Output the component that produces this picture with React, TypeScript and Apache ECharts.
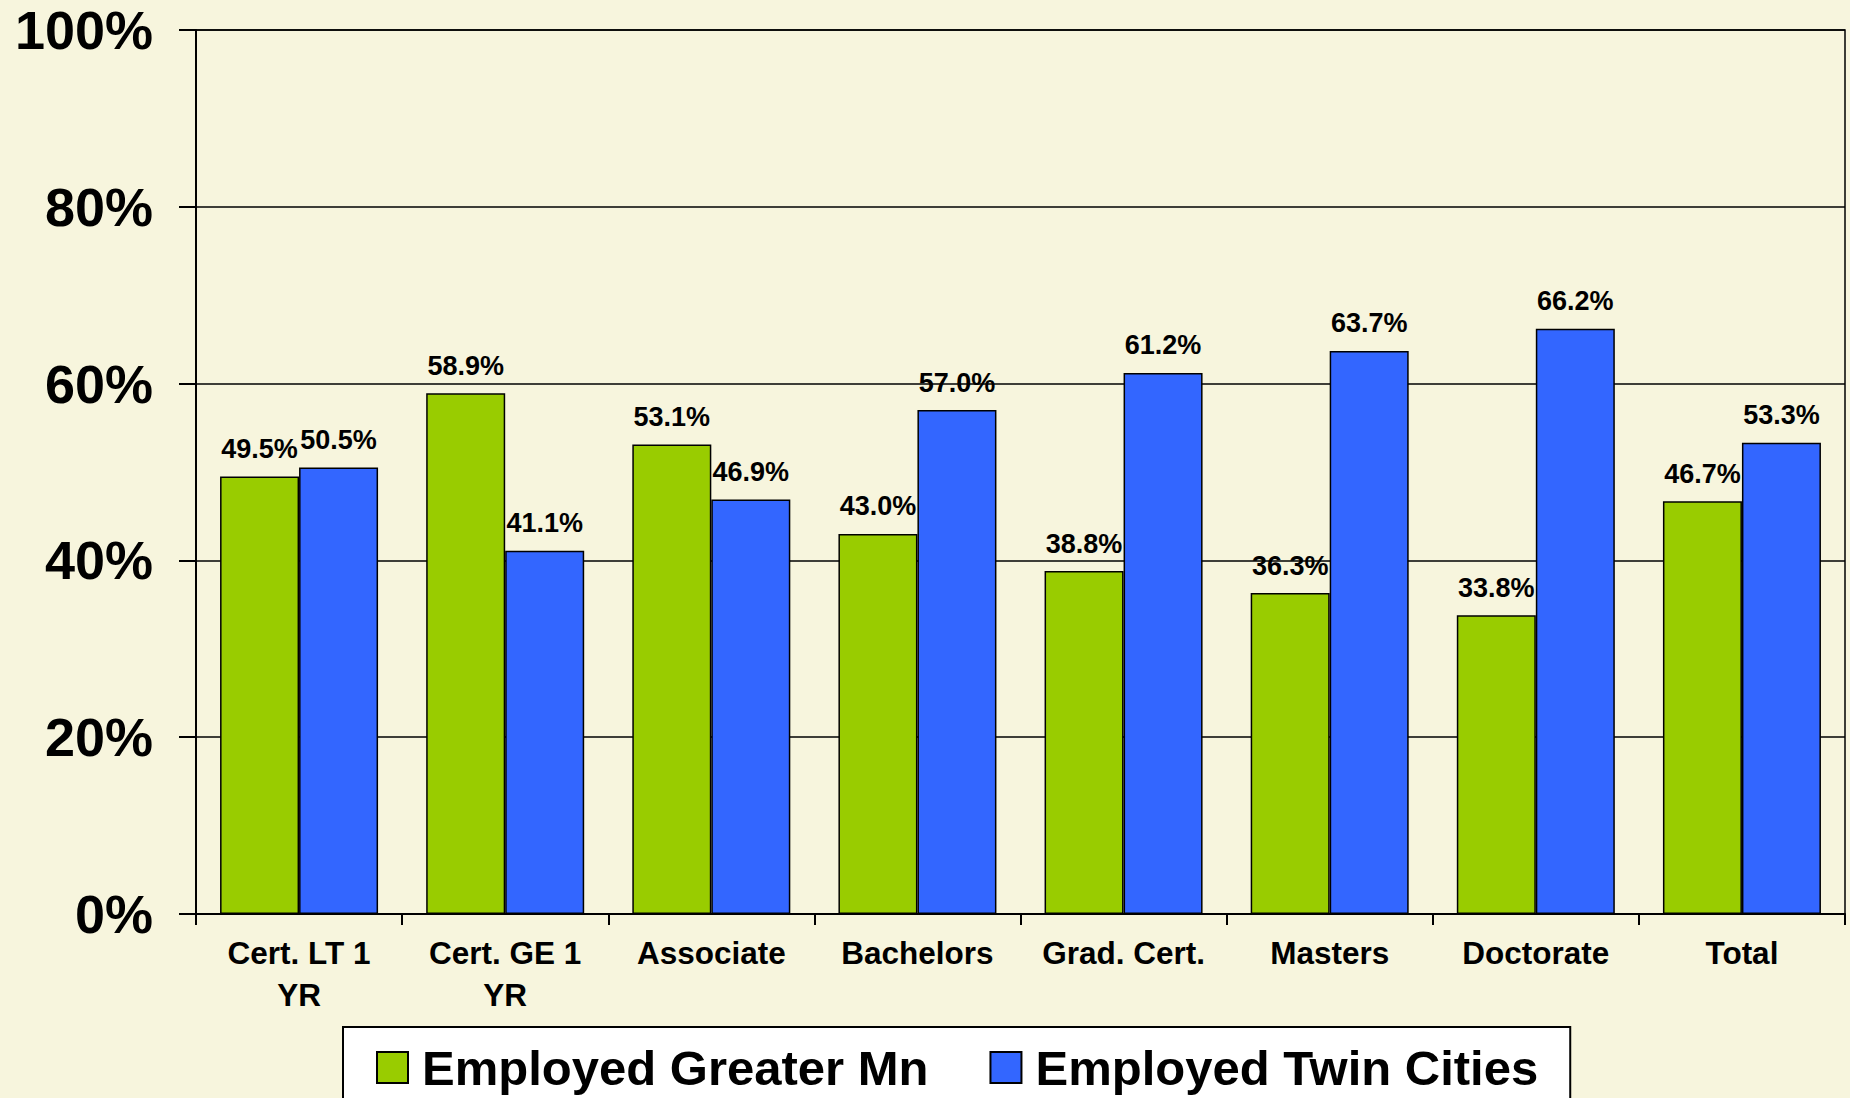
import React, { useEffect, useRef } from "react";
import * as echarts from "echarts";

const categories = [
  "Cert. LT 1\nYR",
  "Cert. GE 1\nYR",
  "Associate",
  "Bachelors",
  "Grad. Cert.",
  "Masters",
  "Doctorate",
  "Total",
];
const seriesNames = ["Employed Greater Mn", "Employed Twin Cities"];
const greaterMn = [49.5, 58.9, 53.1, 43.0, 38.8, 36.3, 33.8, 46.7];
const twinCities = [50.5, 41.1, 46.9, 57.0, 61.2, 63.7, 66.2, 53.3];
const yTicks = [0, 20, 40, 60, 80, 100];

const FONT = "'Liberation Sans', Arial, sans-serif";
const BG = "#F7F5DD";

export default function App() {
  const ref = useRef<HTMLDivElement>(null);
  useEffect(() => {
    if (!ref.current) return;
    const chart = echarts.init(ref.current, null, { renderer: "svg" });
    const labelOpt = {
      show: true,
      position: "top",
      distance: 14,
      color: "#000",
      fontSize: 27,
      fontWeight: "bold",
      fontFamily: FONT,
      formatter: (p: any) => Number(p.value).toFixed(1) + "%",
    };
    chart.setOption({
      animation: false,
      backgroundColor: BG,
      textStyle: { fontFamily: FONT },
      grid: {
        left: 196,
        right: 5,
        top: 30,
        bottom: 184,
        show: true,
        borderColor: "#000",
        borderWidth: 1.5,
        backgroundColor: "transparent",
      },
      legend: {
        data: seriesNames,
        left: 343,
        top: 1027,
        orient: "horizontal",
        backgroundColor: "#fff",
        borderColor: "#000",
        borderWidth: 2,
        padding: [16, 32, 60, 33],
        itemWidth: 31,
        itemHeight: 31,
        itemGap: 61,
        icon: "rect",
        textStyle: {
          color: "#000",
          fontSize: 49,
          fontWeight: "bold",
          fontFamily: FONT,
          padding: [0, 0, 0, 9],
        },
      },
      xAxis: {
        type: "category",
        data: categories,
        axisLine: { show: true, lineStyle: { color: "#000", width: 2 } },
        axisTick: { show: true, length: 11, lineStyle: { color: "#000", width: 2 } },
        axisLabel: {
          color: "#000",
          fontSize: 31.5,
          fontWeight: "bold",
          fontFamily: FONT,
          lineHeight: 42,
          margin: 18,
          interval: 0,
        },
        splitLine: { show: false },
      },
      yAxis: {
        type: "value",
        min: yTicks[0],
        max: yTicks[yTicks.length - 1],
        interval: 20,
        axisLine: { show: true, lineStyle: { color: "#000", width: 2 } },
        axisTick: { show: true, length: 17, lineStyle: { color: "#000", width: 2 } },
        axisLabel: {
          color: "#000",
          fontSize: 54,
          fontWeight: "bold",
          fontFamily: FONT,
          margin: 43,
          formatter: "{value}%",
        },
        splitLine: { show: true, lineStyle: { color: "#000", width: 1.5 } },
      },
      series: [
        {
          name: seriesNames[0],
          type: "bar",
          data: greaterMn,
          barWidth: 79,
          barGap: "0%",
          itemStyle: { color: "#99CC00", borderColor: "#000", borderWidth: 1.5 },
          label: labelOpt,
        },
        {
          name: seriesNames[1],
          type: "bar",
          data: twinCities,
          barWidth: 79,
          barGap: "0%",
          itemStyle: { color: "#3366FF", borderColor: "#000", borderWidth: 1.5 },
          label: labelOpt,
        },
      ],
    });
    return () => chart.dispose();
  }, []);
  return (
    <div
      ref={ref}
      style={{ position: "fixed", left: 0, top: 0, width: 1850, height: 1098 }}
    />
  );
}
